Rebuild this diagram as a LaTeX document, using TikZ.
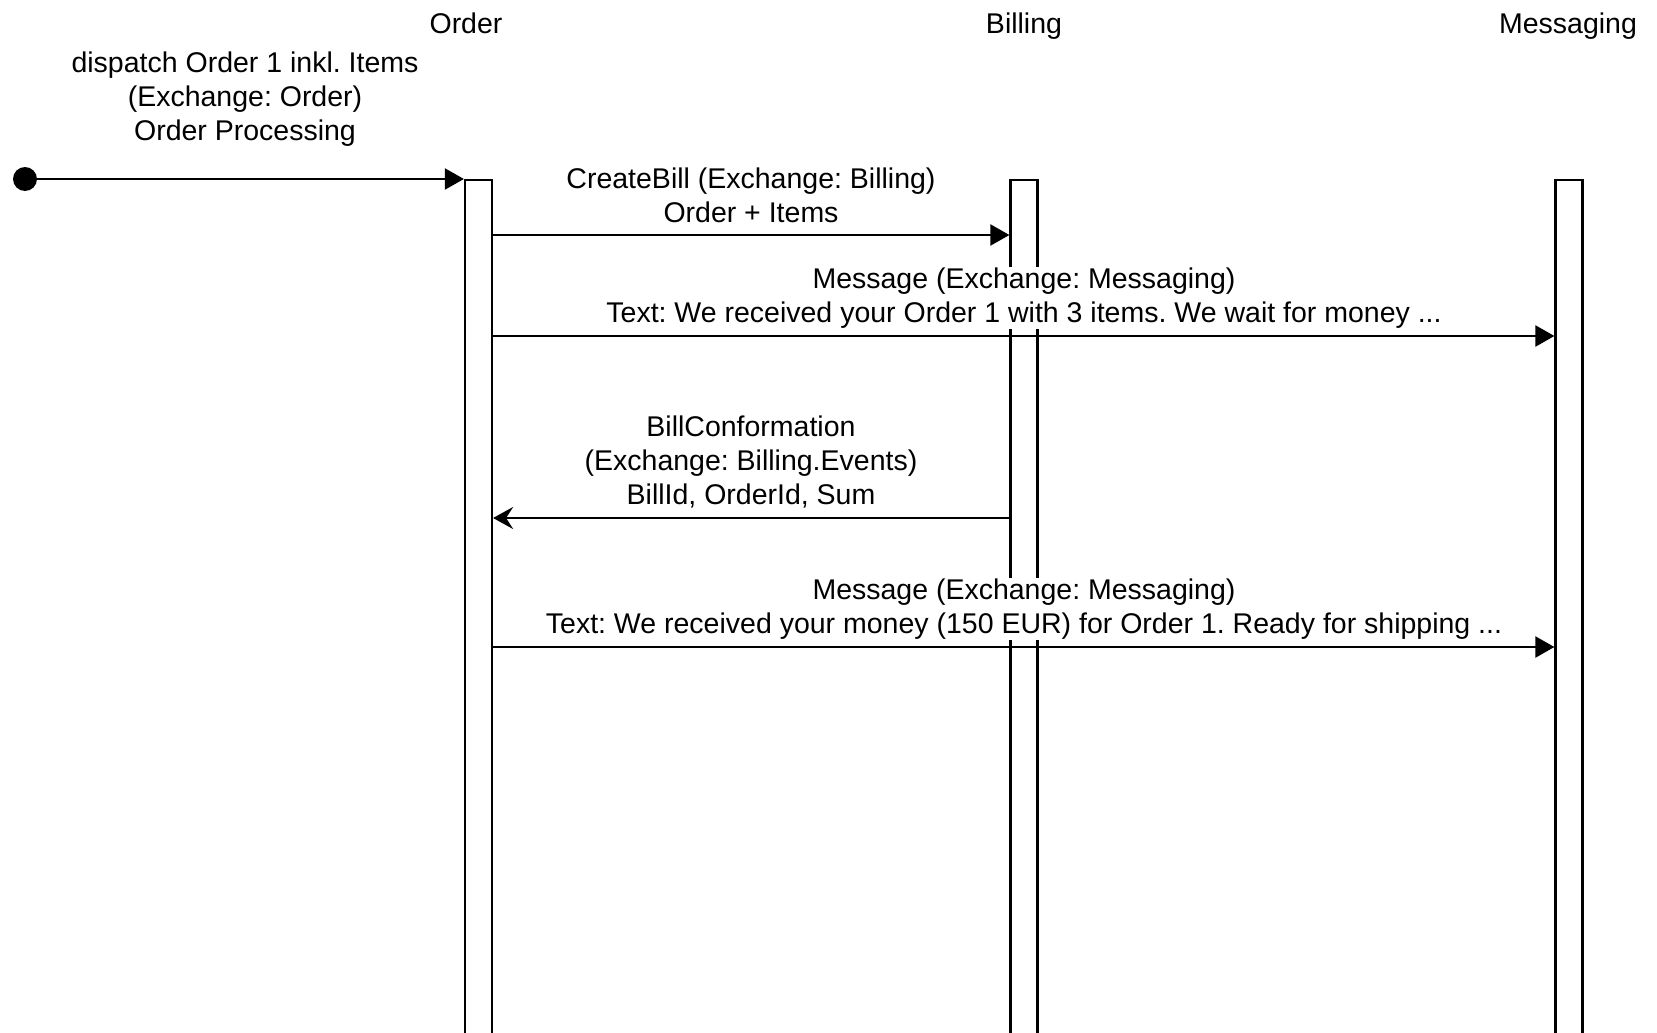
\documentclass[tikz,border=0pt]{standalone}
\usepackage{fontspec}
\setmainfont{Liberation Sans}
\usetikzlibrary{arrows.meta}
\begin{document}
\frenchspacing
\begin{tikzpicture}[x=1pt,y=-1pt,
  every node/.style={font=\fontsize{28.5}{34}\selectfont\frenchspacing},
  lifebox/.style={draw, line width=2.2pt, minimum width=27pt, minimum height=870pt, inner sep=0pt, anchor=north},
  title/.style={inner sep=0pt, text height=21pt, text depth=6pt},
  lbl/.style={align=center, fill=white, inner sep=1pt},
  msg/.style={draw, line width=2.2pt, -{Triangle[length=19pt,width=21pt]}},
  ret/.style={draw, line width=2.2pt, -{Stealth[length=20pt,width=22pt,inset=7pt]}}
]
\useasboundingbox (0,0) rectangle (1657,1033);
\clip (0,0) rectangle (1657,1033);
\fill[white] (0,0) rectangle (1657,1033);

% titles
\node[title] (tOrder) at (466,26) {Order};
\node[title] (tBilling) at (1024,26) {Billing};
\node[title] (tMsg) at (1568,26) {Messaging};

% lifelines
\node[lifebox] (ob) at (478.5,179) {};
\node[lifebox] (bb) at (1024,179) {};
\node[lifebox] (mb) at (1569,179) {};

% start
\node[circle, fill=black, minimum size=24pt, inner sep=0pt] (st) at (25,179) {};
\draw[msg] (st.center) -- (ob.north west);
\node[lbl] (l0) at (245,99) {dispatch Order 1 inkl. Items\\(Exchange: Order)\\Order Processing};

% CreateBill
\draw[msg] (ob.east |- 0,235) -- (bb.west |- 0,235);
\node[lbl] (l1) at (751,195) {CreateBill (Exchange: Billing)\\Order + Items};

% Message 1
\draw[msg] (ob.east |- 0,336) -- (mb.west |- 0,336);
\node[lbl] (l2) at (1024,298) {Message (Exchange: Messaging)\\Text: We received your Order 1 with 3 items. We wait for money ...};

% BillConformation
\draw[ret] (bb.west |- 0,518) -- (ob.east |- 0,518);
\node[lbl] (l3) at (751,462) {BillConformation\\(Exchange: Billing.Events)\\BillId, OrderId, Sum};

% Message 2
\draw[msg] (ob.east |- 0,647) -- (mb.west |- 0,647);
\node[lbl] (l4) at (1024,609) {Message (Exchange: Messaging)\\Text: We received your money (150 EUR) for Order 1. Ready for shipping ...};
\end{tikzpicture}
\end{document}
